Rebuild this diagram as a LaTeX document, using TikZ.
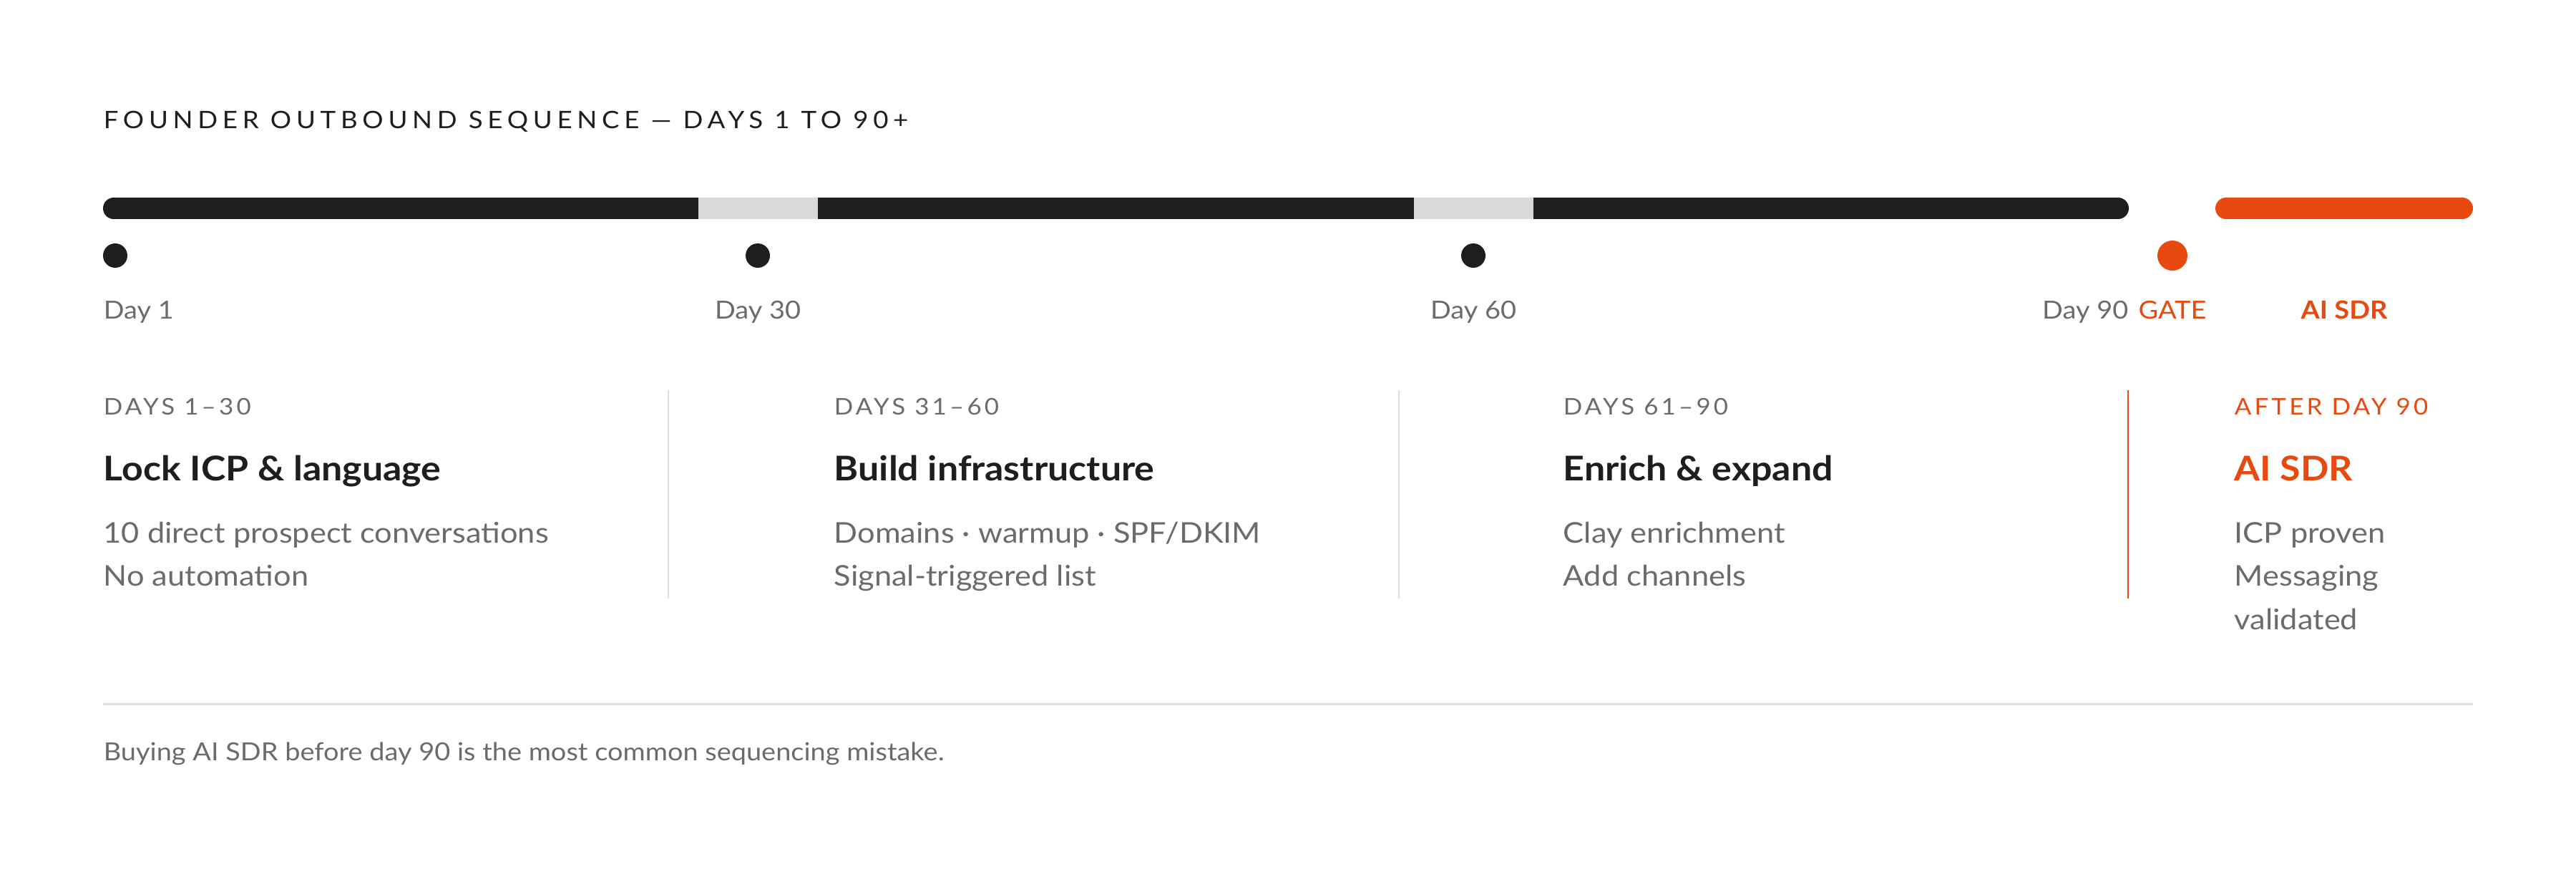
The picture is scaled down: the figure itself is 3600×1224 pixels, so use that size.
\documentclass[tikz,border=0pt]{standalone}
\usepackage{fontspec}
\setmainfont[FakeStretch=1.09]{Lato}
\newfontfamily\trackedfont[FakeStretch=1.09,LetterSpace=20]{Lato}
\newfontfamily\tagfont[FakeStretch=1.09,LetterSpace=13]{Lato}
\usetikzlibrary{positioning}
\definecolor{ink}{HTML}{1E1E1C}
\definecolor{gap}{HTML}{D9D9D9}
\definecolor{ember}{HTML}{E8490F}
\definecolor{muted}{HTML}{6B6B6B}
\definecolor{hair}{HTML}{DEDEDE}
\tikzset{
  txt/.style = {inner sep=0pt, anchor=base west, text=muted},
  title/.style = {txt, text=ink, font=\trackedfont\fontsize{8.4}{10}\selectfont},
  day/.style = {txt, font=\fontsize{8.7}{10}\selectfont},
  tag/.style = {txt, font=\tagfont\fontsize{8}{10}\selectfont},
  head/.style = {txt, text=ink, font=\bfseries\fontsize{11.9}{14}\selectfont},
  body/.style = {txt, font=\fontsize{9.95}{12}\selectfont},
  track/.style = {line width=7.5pt, line cap=round},
  dot/.style = {circle, fill=ink, inner sep=0pt, minimum size=8.5pt},
  divider/.style = {line width=0.6pt, hair}
}

\begin{document}
\begin{tikzpicture}[x=0.25pt,y=-0.25pt]
  \useasboundingbox (0,0) rectangle (3600,1224);
  \pgfmathsetmacro{\barY}{291}
  \pgfmathsetmacro{\dotY}{357}
  \pgfmathsetmacro{\dayY}{445}
  % title
  \node[title] (title) at (144,179) {FOUNDER OUTBOUND SEQUENCE — DAYS 1 TO 90+};
  % track
  \draw[track, ink] (159,\barY) -- (2960,\barY);
  \draw[track, gap, line cap=butt] (976,\barY) -- (1143,\barY);
  \draw[track, gap, line cap=butt] (1976,\barY) -- (2143,\barY);
  \draw[track, ember] (3111,\barY) -- (3441,\barY);
  % milestones
  \node[dot] (d1) at (161,\dotY) {};
  \node[dot] (d30) at (1059,\dotY) {};
  \node[dot] (d60) at (2059,\dotY) {};
  \node[dot, fill=ember, minimum size=10.5pt] (gate) at (3036,\dotY) {};
  \node[day] (day1) at (144,\dayY) {Day 1};
  \node[day, anchor=base] (day30) at (1059,\dayY) {Day 30};
  \node[day, anchor=base] (day60) at (2059,\dayY) {Day 60};
  \node[day, anchor=base east] (day90) at (2975,\dayY) {Day 90};
  \node[day, anchor=base, text=ember] (gatetxt) at (3036,\dayY) {GATE};
  \node[day, anchor=base, text=ember, font=\bfseries\fontsize{8.7}{10}\selectfont] (sdr) at (3276,\dayY) {AI SDR};
  % phases
  \node[tag] (tag1) at (144,579) {DAYS 1–30};
  \node[head] (head1) at (144,671) {Lock ICP \& language};
  \node[body] (b1a) at (144,758) {10 direct prospect conversations};
  \node[body] (b1b) at (144,818) {No automation};
  \draw[divider] (934,545) -- (934,836);
  \node[tag] (tag2) at (1165,579) {DAYS 31–60};
  \node[head] (head2) at (1165,671) {Build infrastructure};
  \node[body] (b2a) at (1165,758) {Domains · warmup · SPF/DKIM};
  \node[body] (b2b) at (1165,818) {Signal-triggered list};
  \draw[divider] (1955,545) -- (1955,836);
  \node[tag] (tag3) at (2184,579) {DAYS 61–90};
  \node[head] (head3) at (2184,671) {Enrich \& expand};
  \node[body] (b3a) at (2184,758) {Clay enrichment};
  \node[body] (b3b) at (2184,818) {Add channels};
  \draw[divider, ember] (2974,545) -- (2974,836);
  \node[tag, text=ember] (tag4) at (3122,579) {AFTER DAY 90};
  \node[head, text=ember] (head4) at (3122,671) {AI SDR};
  \node[body] (b4a) at (3122,758) {ICP proven};
  \node[body] (b4b) at (3122,818) {Messaging};
  \node[body] (b4c) at (3122,879) {validated};
  % footer
  \draw[line width=0.75pt, hair] (144,983) -- (3456,983);
  \node[day] (note) at (144,1062) {Buying AI SDR before day 90 is the most common sequencing mistake.};
\end{tikzpicture}
\end{document}
